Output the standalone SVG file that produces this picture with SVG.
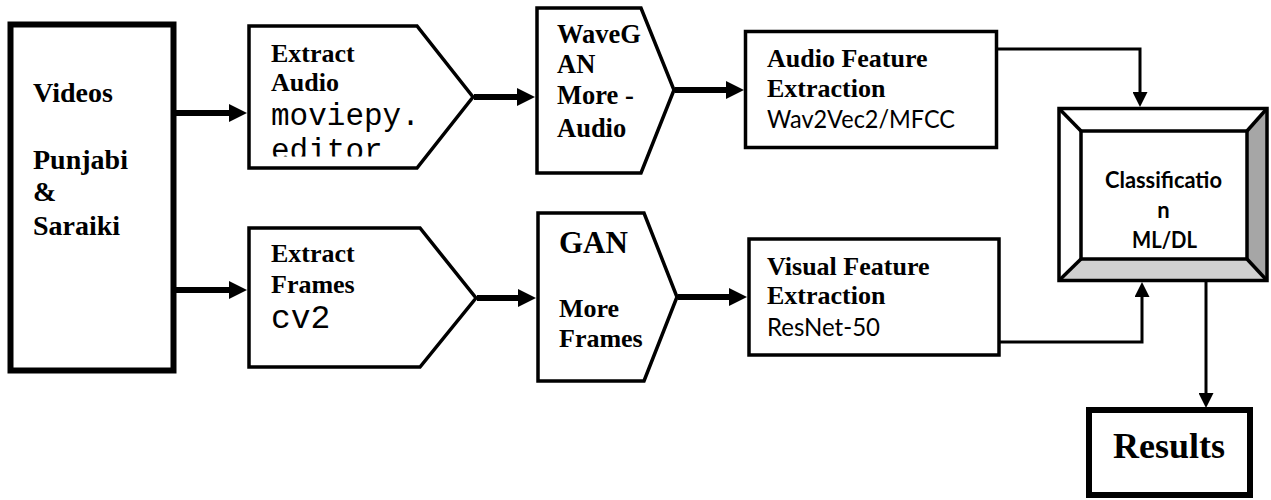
<svg xmlns="http://www.w3.org/2000/svg" width="1271" height="500" viewBox="0 0 1271 500">
  <style>
    .box { fill: #ffffff; stroke: #000000; stroke-width: 3.5; stroke-linejoin: miter; }
    .heavy { fill: #ffffff; stroke: #000000; stroke-width: 6; }
    .serif { font-family: "Liberation Serif", "Times New Roman", serif; font-weight: bold; fill: #000000; }
    .mono { font-family: "Liberation Mono", "Courier New", monospace; fill: #000000; }
    .sans { font-family: Lato, "Open Sans", "Noto Sans", sans-serif; fill: #000000; }
    .thick { fill: none; stroke: #000000; stroke-width: 6; }
    .thin { fill: none; stroke: #000000; stroke-width: 3; }
  </style>
  <defs>
    <marker id="headBig" markerUnits="userSpaceOnUse" viewBox="0 0 18 18" markerWidth="18" markerHeight="18" refX="8" refY="9" orient="auto">
      <path d="M0,0 L18,9 L0,18 Z" fill="#000000"/>
    </marker>
    <marker id="headSmall" markerUnits="userSpaceOnUse" viewBox="0 0 15 15" markerWidth="15" markerHeight="15" refX="7" refY="7.5" orient="auto">
      <path d="M0,0 L15,7.5 L0,15 Z" fill="#000000"/>
    </marker>
    <clipPath id="audioTextClip">
      <rect x="250" y="28" width="200" height="128.5"/>
    </clipPath>
  </defs>

  <!-- source videos -->
  <g id="videos">
    <rect class="heavy" x="10.5" y="24.5" width="163" height="346" stroke-width="5.5"/>
    <text class="serif" font-size="28" x="33" y="101.5">Videos</text>
    <text class="serif" font-size="28" x="33" y="169">Punjabi</text>
    <text class="serif" font-size="28" x="33" y="201">&amp;</text>
    <text class="serif" font-size="28" x="33" y="235">Saraiki</text>
  </g>

  <!-- audio branch -->
  <g id="extract-audio">
    <polygon class="box" points="249,26 417,26 473,97 417,168 249,168"/>
    <g clip-path="url(#audioTextClip)">
      <text class="serif" font-size="26" x="271" y="62">Extract</text>
      <text class="serif" font-size="26" x="271" y="91">Audio</text>
      <text class="mono" font-size="31" x="271" y="125">moviepy.</text>
      <text class="mono" font-size="31" x="271" y="160">editor</text>
    </g>
  </g>

  <g id="wavegan">
    <polygon class="box" points="537,8 641,8 674,90 641,173 537,173"/>
    <text class="serif" font-size="26.5" x="557" y="43">WaveG</text>
    <text class="serif" font-size="26.5" x="557" y="73">AN</text>
    <text class="serif" font-size="26.5" x="557" y="104">More -</text>
    <text class="serif" font-size="26.5" x="557" y="137">Audio</text>
  </g>

  <g id="audio-features">
    <rect class="box" x="745.5" y="31.5" width="251" height="116"/>
    <text class="serif" font-size="26" x="767" y="67">Audio Feature</text>
    <text class="serif" font-size="26" x="767" y="97">Extraction</text>
    <text class="sans" font-size="25" x="767" y="128" textLength="188" lengthAdjust="spacingAndGlyphs">Wav2Vec2/MFCC</text>
  </g>

  <!-- visual branch -->
  <g id="extract-frames">
    <polygon class="box" points="249,228 420,228 476,298 420,367 249,367"/>
    <text class="serif" font-size="26" x="271" y="262">Extract</text>
    <text class="serif" font-size="26" x="271" y="293">Frames</text>
    <text class="mono" font-size="33" x="271" y="328">cv2</text>
  </g>

  <g id="gan">
    <polygon class="box" points="538,213 644,213 677,297 644,381 538,381"/>
    <text class="serif" font-size="31" x="559" y="253">GAN</text>
    <text class="serif" font-size="26" x="559" y="317">More</text>
    <text class="serif" font-size="26" x="559" y="347">Frames</text>
  </g>

  <g id="visual-features">
    <rect class="box" x="749" y="239" width="250" height="116"/>
    <text class="serif" font-size="26" x="767" y="275">Visual Feature</text>
    <text class="serif" font-size="26" x="767" y="304">Extraction</text>
    <text class="sans" font-size="25" x="767" y="336" textLength="113" lengthAdjust="spacingAndGlyphs">ResNet-50</text>
  </g>

  <!-- bevelled classifier block -->
  <g id="classification">
    <polygon points="1059,108.5 1267,108.5 1247,131 1081,131" fill="#ffffff"/>
    <polygon points="1059,108.5 1081,131 1081,259 1059,280.5" fill="#ffffff"/>
    <polygon points="1267,108.5 1267,280.5 1247,259 1247,131" fill="#a6a6a6"/>
    <polygon points="1059,280.5 1081,259 1247,259 1267,280.5" fill="#d0d0d0"/>
    <rect x="1059" y="108.5" width="208" height="172" fill="none" stroke="#000000" stroke-width="3.5"/>
    <rect x="1081" y="131" width="166" height="128" fill="#ffffff" stroke="#000000" stroke-width="3.5"/>
    <g stroke="#000000" stroke-width="3.5">
      <line x1="1059" y1="108.5" x2="1081" y2="131"/>
      <line x1="1267" y1="108.5" x2="1247" y2="131"/>
      <line x1="1059" y1="280.5" x2="1081" y2="259"/>
      <line x1="1267" y1="280.5" x2="1247" y2="259"/>
    </g>
    <text class="sans" font-size="22" font-weight="bold" x="1163.5" y="188" text-anchor="middle" textLength="117" lengthAdjust="spacingAndGlyphs">Classificatio</text>
    <text class="sans" font-size="22" font-weight="bold" x="1163.5" y="218" text-anchor="middle">n</text>
    <text class="sans" font-size="22" font-weight="bold" x="1164.5" y="248" text-anchor="middle" textLength="65" lengthAdjust="spacingAndGlyphs">ML/DL</text>
  </g>

  <g id="results">
    <rect class="heavy" x="1089" y="410" width="161" height="85"/>
    <text class="serif" font-size="36" x="1169" y="458" text-anchor="middle">Results</text>
  </g>

  <!-- connectors -->
  <g id="connectors">
    <line class="thick" x1="176" y1="113" x2="237" y2="113" marker-end="url(#headBig)"/>
    <line class="thick" x1="176" y1="290" x2="237" y2="290" marker-end="url(#headBig)"/>
    <line class="thick" x1="474" y1="97" x2="525" y2="97" marker-end="url(#headBig)"/>
    <line class="thick" x1="477" y1="298" x2="526" y2="298" marker-end="url(#headBig)"/>
    <line class="thick" x1="675" y1="90" x2="734" y2="90" marker-end="url(#headBig)"/>
    <line class="thick" x1="678" y1="297" x2="737" y2="297" marker-end="url(#headBig)"/>
    <path class="thin" d="M997,49 H1140 V99" marker-end="url(#headSmall)"/>
    <path class="thin" d="M999,342 H1142 V290" marker-end="url(#headSmall)"/>
    <path class="thin" d="M1206,282 V400" marker-end="url(#headSmall)"/>
  </g>
</svg>
